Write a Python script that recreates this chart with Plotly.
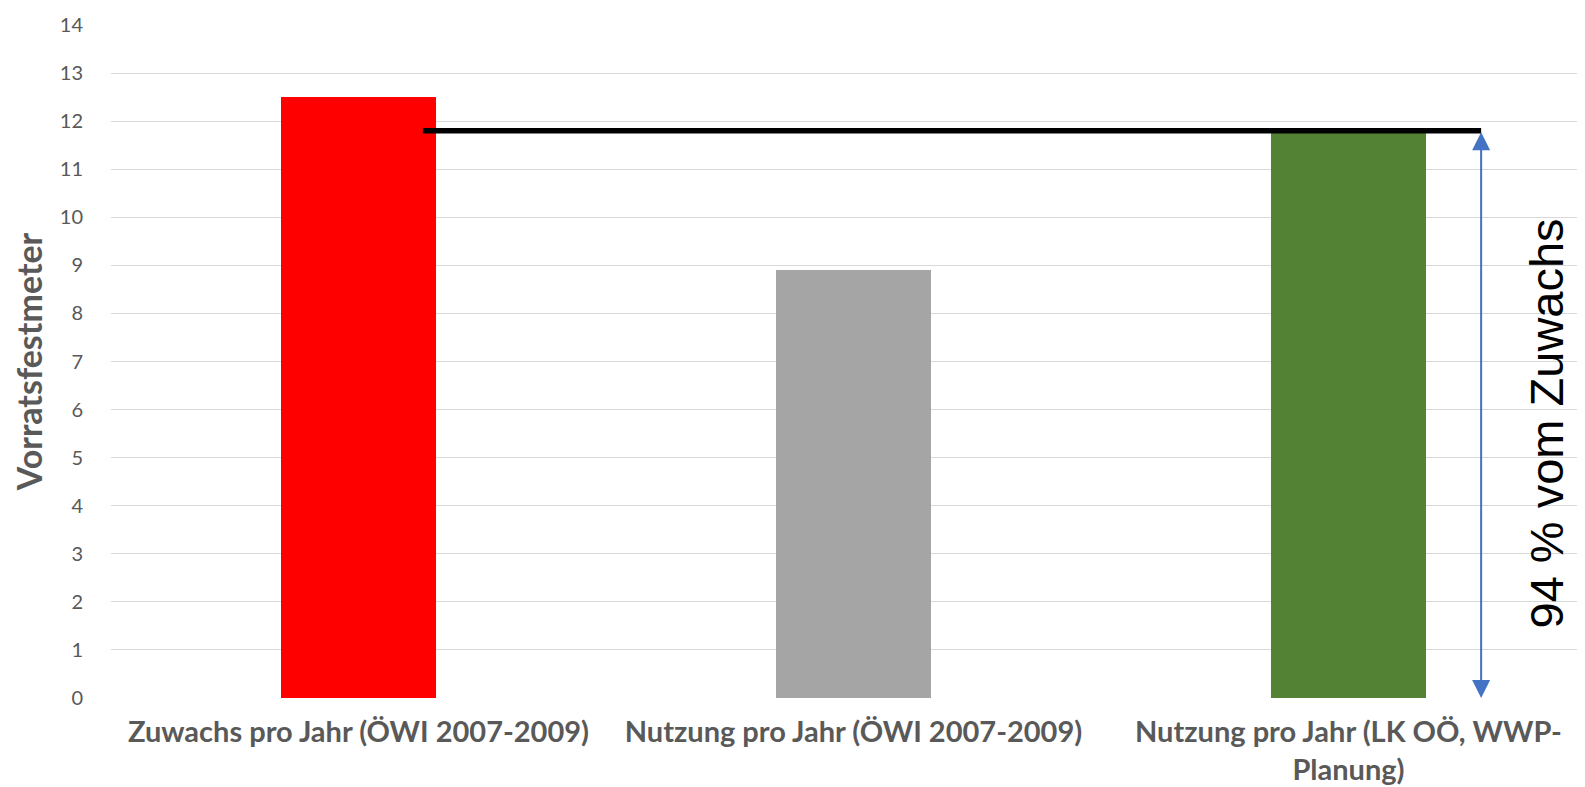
import plotly.graph_objects as go

categories = [
    "Zuwachs pro Jahr (ÖWI 2007-2009)",
    "Nutzung pro Jahr (ÖWI 2007-2009)",
    "Nutzung pro Jahr (LK OÖ, WWP-<br>Planung)",
]
values = [12.5, 8.9, 11.8]
bar_colors = ["#FF0000", "#A5A5A5", "#548235"]

ref_value = 11.8          # Nutzung LK OÖ = 94 % vom Zuwachs
ref_line_x = [0.13, 2.268]
arrow_x = 2.268
arrow_label = "94 % vom Zuwachs"
y_ticks = list(range(0, 15))

fig = go.Figure()
fig.add_trace(go.Bar(
    x=[0, 1, 2], y=values, marker_color=bar_colors, width=0.313,
    marker_line_width=0, showlegend=False, hoverinfo="skip",
))
fig.add_trace(go.Scatter(
    x=ref_line_x, y=[ref_value, ref_value], mode="lines",
    line=dict(color="black", width=5.5), showlegend=False, hoverinfo="skip",
))

fig.add_annotation(
    x=arrow_x, y=0, ax=arrow_x, ay=ref_value, xref="x", yref="y",
    axref="x", ayref="y", text="", showarrow=True, arrowhead=2,
    arrowside="end+start", arrowsize=1.8, arrowwidth=2, arrowcolor="#4472C4",
    startarrowhead=2, startarrowsize=1.8,
)
fig.add_annotation(
    x=2.40, y=5.72, xref="x", yref="y", text=arrow_label, showarrow=False,
    textangle=-90, font=dict(family="Liberation Sans, Arial", size=47, color="black"),
)

fig.update_layout(
    width=1585, height=787,
    margin=dict(l=103, r=0, t=17, b=97),
    paper_bgcolor="white", plot_bgcolor="white",
    bargap=0,
    xaxis=dict(
        range=[-0.5, 2.494], tickmode="array", tickvals=[0, 1, 2],
        ticktext=categories, showgrid=False, zeroline=False, showline=False,
        ticks="", tickangle=0, ticklabelstandoff=14,
        tickfont=dict(family="Lato", size=29, color="#595959", weight="bold"),
    ),
    yaxis=dict(
        range=[0, 14], tickmode="array", tickvals=y_ticks,
        showgrid=True, gridcolor="#D9D9D9", gridwidth=1.3,
        zeroline=False, showline=False, ticks="",
        tickfont=dict(family="Lato", size=20, color="#595959"),
        ticklabelstandoff=27,
        title=dict(text="<b>Vorratsfestmeter</b>", standoff=14,
                   font=dict(family="Lato", size=34, color="#595959")),
    ),
)

fig.write_html("out.html")
